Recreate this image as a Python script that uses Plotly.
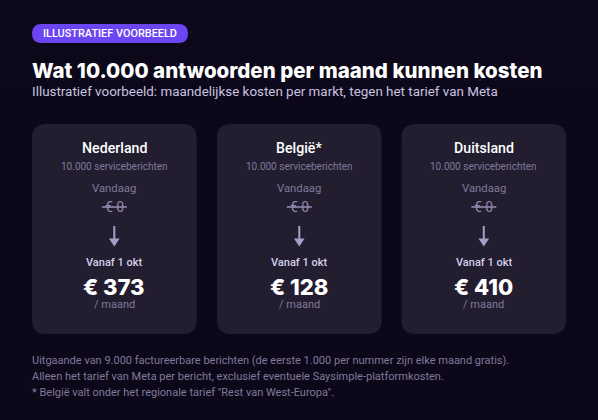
import numpy as np
import plotly.graph_objects as go

markets = ["Nederland", "België*", "Duitsland"]
prices = ["€ 373", "€ 128", "€ 410"]
volume_label = "10.000 serviceberichten"
today_label = "Vandaag"
today_price = "€ 0"
from_label = "Vanaf 1 okt"
unit_label = "/ maand"
badge = "ILLUSTRATIEF VOORBEELD"
title = "Wat 10.000 antwoorden per maand kunnen kosten"
subtitle = "Illustratief voorbeeld: maandelijkse kosten per markt, tegen het tarief van Meta"
footnotes = [
    "Uitgaande van 9.000 factureerbare berichten (de eerste 1.000 per nummer zijn elke maand gratis).",
    "Alleen het tarief van Meta per bericht, exclusief eventuele Saysimple-platformkosten.",
    '* België valt onder het regionale tarief "Rest van West-Europa".',
]

BG = "#0c0819"
CARD = "#221e30"
LAV = "#a79fc8"
MUTED = "#80799a"
BODY = "Roboto"
HEAD = "Inter"


def rounded(x0, y0, x1, y1, r):
    return (f"M{x0+r},{y0} L{x1-r},{y0} Q{x1},{y0} {x1},{y0+r} L{x1},{y1-r} Q{x1},{y1} {x1-r},{y1} "
            f"L{x0+r},{y1} Q{x0},{y1} {x0},{y1-r} L{x0},{y0+r} Q{x0},{y0} {x0+r},{y0} Z")


fig = go.Figure()

# faint dot grid behind the header
for row, op in zip([0, 16, 32, 48, 64, 80], [0.24, 0.23, 0.22, 0.20, 0.18, 0.16]):
    xs = np.arange(0, 599, 16)
    fig.add_trace(go.Scatter(x=xs, y=[row] * len(xs), mode="markers", hoverinfo="skip", showlegend=False,
                             marker=dict(size=2, color="#8f88b0", opacity=op, line=dict(width=0))))

shapes = [dict(type="path", path=rounded(32, 24, 188, 43, 9.5), fillcolor="#6c45f2", line=dict(width=0), layer="below")]
annotations = []


def text(x, y, s, size, color, font=BODY, weight=400, anchor="center"):
    annotations.append(dict(x=x, y=y, text=s, showarrow=False, xanchor=anchor, yanchor="middle",
                            borderpad=0, borderwidth=0,
                            font=dict(family=font, size=size, color=color, weight=weight)))


text(110, 33.5, badge, 10.9, "#ffffff", weight=500)
text(32, 70, title, 20.5, "#ffffff", HEAD, 800, "left")
text(32, 91, subtitle, 13.4, "#c9c3e0", anchor="left")

card_lefts = [32, 217, 401.5]
for left, market, price in zip(card_lefts, markets, prices):
    mid = left + 82.3
    shapes.append(dict(type="path", path=rounded(left, 124, left + 164.6, 334, 14), fillcolor=CARD,
                       line=dict(width=0), layer="below"))
    text(mid, 148, market, 14.2, "#ffffff", weight=500)
    text(mid, 166, volume_label, 10, MUTED)
    text(mid, 188.5, today_label, 11.3, MUTED)
    text(mid, 206.5, today_price, 14, "#8f88ac")
    shapes.append(dict(type="line", x0=mid - 12.5, x1=mid + 12.5, y0=207, y1=207, line=dict(color=LAV, width=1.3)))
    shapes.append(dict(type="line", x0=mid, x1=mid, y0=226, y1=240, line=dict(color=LAV, width=2)))
    shapes.append(dict(type="path", path=f"M{mid-5.3},238.5 L{mid+5.3},238.5 L{mid},246.5 Z", fillcolor=LAV, line=dict(width=0)))
    text(mid, 262.5, from_label, 11, "#d5cfeb", weight=500)
    text(mid, 287, price, 22, "#ffffff", HEAD, 800)
    text(mid, 304.5, unit_label, 11, MUTED)

for y, line in zip([360, 376.5, 392.5], footnotes):
    text(32, y, line, 11, MUTED, anchor="left")

fig.update_layout(
    width=598, height=420, margin=dict(l=0, r=0, t=0, b=0),
    paper_bgcolor=BG, plot_bgcolor=BG, showlegend=False,
    xaxis=dict(range=[0, 598], visible=False, fixedrange=True),
    yaxis=dict(range=[420, 0], visible=False, fixedrange=True),
    shapes=shapes, annotations=annotations,
)
# the page's default body margin would push the figure 8px off the corner
fig.write_html("out.html", config={"displayModeBar": False},
               post_script="document.body.style.margin='0';document.documentElement.style.overflow='hidden';")
